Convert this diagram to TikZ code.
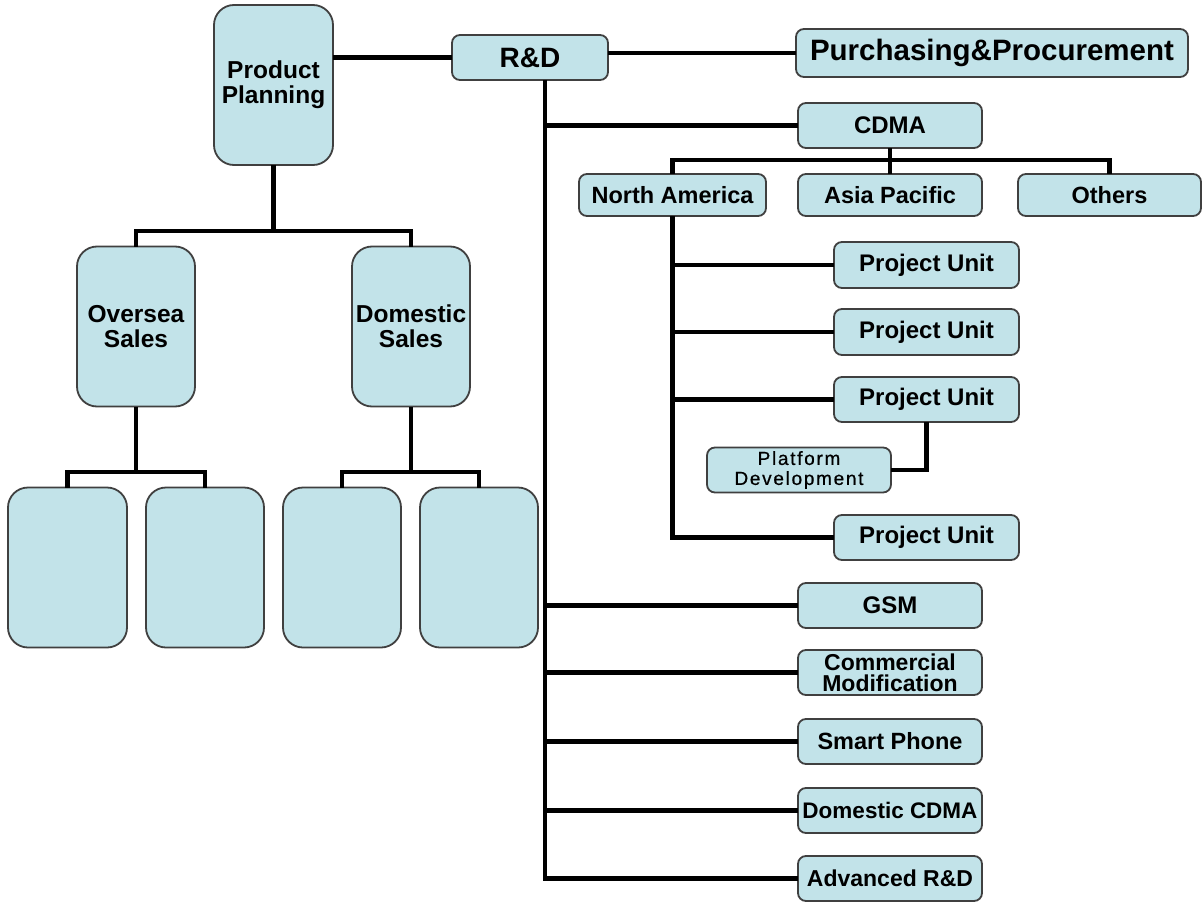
\documentclass[tikz,border=0pt]{standalone}
\usepackage{fontspec}
\setmainfont{Liberation Sans}
\newfontfamily\platfont[LetterSpace=9,FakeBold=0.6]{Liberation Sans}
\definecolor{boxfill}{RGB}{194,227,233}
\definecolor{boxline}{RGB}{64,64,64}
\begin{document}
\begin{tikzpicture}[x=1pt,y=-1pt,
  unit/.style={draw=boxline, line width=1.8pt, fill=boxfill, rounded corners=8pt,
    inner sep=0pt, outer sep=0pt, align=center,
    font=\bfseries\fontsize{24}{25}\selectfont},
  bigunit/.style={unit, rounded corners=20pt, minimum width=118pt, minimum height=160pt,
    font=\bfseries\fontsize{24.5}{25}\selectfont},
  wide/.style={minimum width=184pt, minimum height=45pt},
  link/.style={line width=4.6pt, line join=miter}]
\useasboundingbox[fill=white] (0,0) rectangle (1203,902);

% left branch: planning and sales
\node[bigunit, minimum width=119pt] (pp) at (273.5,85) {Product\\Planning};
\node[bigunit] (os) at (136,326.5) {Oversea\\Sales};
\node[bigunit] (ds) at (411,326.5) {Domestic\\Sales};
\node[bigunit, minimum width=119pt] (b1) at (67.5,567.5) {};
\node[bigunit] (b2) at (205,567.5) {};
\node[bigunit] (b3) at (342,567.5) {};
\node[bigunit] (b4) at (479,567.5) {};

% top row
\node[unit, minimum width=156pt, minimum height=45pt, font=\bfseries\fontsize{28}{30}\selectfont] (rd) at (530,57.5) {R\&D};
\node[unit, minimum width=392pt, minimum height=48pt, font=\bfseries\fontsize{29.5}{31}\selectfont] (pnp) at (992,53) {Purchasing\&Procurement};

% CDMA and regions
\node[unit, wide] (cdma) at (890,125.5) {CDMA};
\node[unit, minimum width=187pt, minimum height=42pt, font=\bfseries\fontsize{23.5}{25}\selectfont] (na) at (672.5,195) {North America};
\node[unit, wide, minimum height=42pt, font=\bfseries\fontsize{23.5}{25}\selectfont] (ap) at (890,195) {Asia Pacific};
\node[unit, minimum width=183pt, minimum height=42pt, font=\bfseries\fontsize{23.5}{25}\selectfont] (oth) at (1109.5,195) {Others};

% project units
\node[unit, minimum width=185pt, minimum height=46pt] (pu1) at (926.5,265) {Project Unit};
\node[unit, minimum width=185pt, minimum height=46pt] (pu2) at (926.5,332) {Project Unit};
\node[unit, minimum width=185pt, minimum height=45pt] (pu3) at (926.5,399.5) {Project Unit};
\node[unit, wide, font=\platfont\fontsize{19}{21}\selectfont] (plat) at (799,470) {Platform\\[-1pt]Development};
\node[unit, minimum width=185pt, minimum height=45pt] (pu4) at (926.5,537.5) {Project Unit};

% other R&D groups
\node[unit, wide] (gsm) at (890,605.5) {GSM};
\node[unit, wide, font=\bfseries\fontsize{23}{21}\selectfont] (cm) at (890,672.5) {Commercial\\Modification};
\node[unit, wide, font=\bfseries\fontsize{23.5}{25}\selectfont] (sp) at (890,741.5) {Smart Phone};
\node[unit, wide, font=\bfseries\fontsize{22.5}{25}\selectfont] (dc) at (890,810.5) {Domestic CDMA};
\node[unit, wide, font=\bfseries\fontsize{23}{25}\selectfont] (adv) at (890,878.5) {Advanced R\&D};

% bus lines
\coordinate (trunk) at (545,0);
\coordinate (cbus) at (0,160);
\coordinate (nax) at (672,0);
\coordinate (ppbus) at (0,231);
\coordinate (osbus) at (0,472);

% connectors
\draw[link] (rd.west) -- (rd.west -| pp.east);
\draw[link] (pnp.west) -- (pnp.west -| rd.east);
\draw[link] (rd.south -| trunk) |- (adv.west);
\foreach \n in {cdma,gsm,cm,sp,dc}
  \draw[link] (\n.west) -- (\n.west -| trunk);

\draw[link] (cdma.south) -- (cdma.south |- cbus);
\draw[link] (na.north) -- (na.north |- cbus) -| (oth.north);
\draw[link] (ap.north) -- (ap.north |- cbus);

\draw[link] (na.south) |- (pu4.west);
\foreach \n in {pu1,pu2,pu3}
  \draw[link] (\n.west) -- (\n.west -| nax);
\draw[link] (pu3.south) |- (plat.east);

\draw[link] (pp.south) -- (pp.south |- ppbus);
\draw[link] (os.north) -- (os.north |- ppbus) -| (ds.north);
\draw[link] (os.south) -- (os.south |- osbus);
\draw[link] (b1.north) -- (b1.north |- osbus) -| (b2.north);
\draw[link] (ds.south) -- (ds.south |- osbus);
\draw[link] (b3.north) -- (b3.north |- osbus) -| (b4.north);
\end{tikzpicture}
\end{document}
